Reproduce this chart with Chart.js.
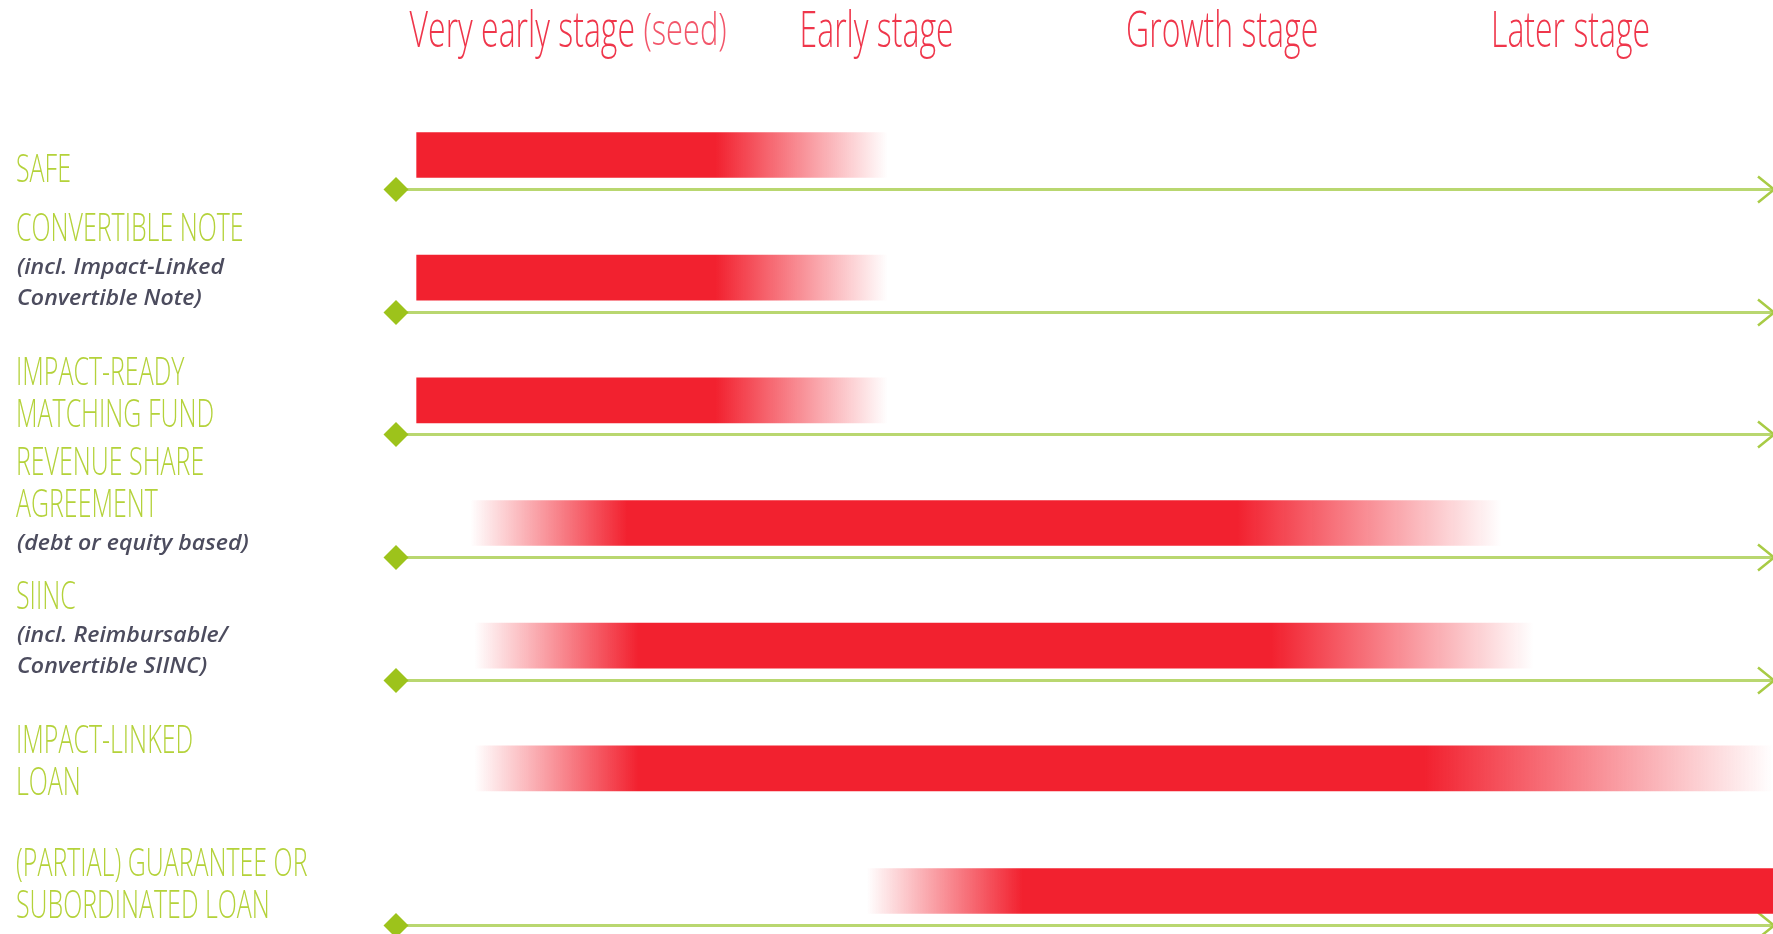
<!DOCTYPE html>
<html>
<head>
<meta charset="utf-8">
<script src="https://cdn.jsdelivr.net/npm/chart.js@4.4.1/dist/chart.umd.min.js"></script>
<style>
  html, body { margin: 0; padding: 0; background: #ffffff; overflow: hidden; }
  #wrap { width: 1773px; height: 934px; position: relative; }
  canvas { display: block; }
</style>
</head>
<body>
<div id="wrap"><canvas id="c" width="1773" height="934"></canvas></div>
<script>
// ---------------- DATA ----------------
const categories = [
  'SAFE',
  'CONVERTIBLE NOTE',
  'IMPACT-READY MATCHING FUND',
  'REVENUE SHARE AGREEMENT',
  'SIINC',
  'IMPACT-LINKED LOAN',
  '(PARTIAL) GUARANTEE OR SUBORDINATED LOAN'
];
const titleLines = [
  ['SAFE'],
  ['CONVERTIBLE NOTE'],
  ['IMPACT-READY', 'MATCHING FUND'],
  ['REVENUE SHARE', 'AGREEMENT'],
  ['SIINC'],
  ['IMPACT-LINKED', 'LOAN'],
  ['(PARTIAL) GUARANTEE OR', 'SUBORDINATED LOAN']
];
const noteLines = [
  [],
  ['(incl. Impact-Linked', 'Convertible Note)'],
  [],
  ['(debt or equity based)'],
  ['(incl. Reimbursable/', 'Convertible SIINC)'],
  [],
  []
];
// stage axis runs 0 (start) .. 100 (end of later stage)
const barStart   = [1.5, 1.5, 1.5, 5.4, 5.7, 5.7, 34.2];
const solidStart = [1.5, 1.5, 1.5, 16.8, 17.6, 17.6, 45.5];
const solidEnd   = [23.2, 23.2, 23.2, 61.1, 63.6, 74.7, 100];
const barEnd     = [35.7, 35.7, 35.7, 80.3, 82.6, 100, 100];
const hasTrack   = [true, true, true, true, true, false, true];

const stageLabels    = ['Very early stage', 'Early stage', 'Growth stage', 'Later stage'];
const stageNotes     = ['(seed)', '', '', ''];
const stagePositions = [12.5, 35.2, 60.3, 85.6];

// ---------------- STYLE ----------------
const RED = 'rgba(242,33,47,1)';
const RED0 = 'rgba(242,33,47,0)';
const GREEN_TEXT = '#b4d23a';
const GREEN_LINE = '#b9d770';
const GREEN_MARK = '#9dc31b';
const HEAD_RED = '#ef364b';
const HEAD_NOTE = '#f2566a';
const NOTE_GREY = '#4c4c5e';

function condensed(ctx, text, x, y, sx) {
  ctx.save();
  ctx.translate(x, y);
  ctx.scale(sx, 1);
  ctx.textAlign = 'left';
  ctx.fillText(text, 0, 0);
  ctx.restore();
}

const decor = {
  id: 'decor',
  beforeDatasetsDraw(chart) {
    const ctx = chart.ctx, xs = chart.scales.x, ys = chart.scales.y;
    ctx.save();
    categories.forEach((c, i) => {
      if (!hasTrack[i]) return;
      const y = Math.round(ys.getPixelForValue(i) + 34) + 0.5;
      const x0 = xs.getPixelForValue(0);
      const xr = xs.getPixelForValue(100);
      ctx.strokeStyle = GREEN_LINE;
      ctx.lineWidth = 3;
      ctx.beginPath(); ctx.moveTo(x0, y); ctx.lineTo(xr, y); ctx.stroke();
      ctx.strokeStyle = '#a8cb45';
      ctx.lineWidth = 2.5;
      ctx.beginPath();
      ctx.moveTo(xr - 15, y - 13); ctx.lineTo(xr + 1, y); ctx.lineTo(xr - 15, y + 13);
      ctx.stroke();
      ctx.fillStyle = GREEN_MARK;
      const s = 12.5;
      ctx.beginPath();
      ctx.moveTo(x0, y - s); ctx.lineTo(x0 + s, y); ctx.lineTo(x0, y + s); ctx.lineTo(x0 - s, y);
      ctx.closePath(); ctx.fill();
    });
    ctx.restore();
  },
  afterDraw(chart) {
    const ctx = chart.ctx, xs = chart.scales.x, ys = chart.scales.y;
    ctx.save();
    ctx.textBaseline = 'alphabetic';
    // stage headers
    stageLabels.forEach((lab, i) => {
      const cx = xs.getPixelForValue(stagePositions[i]);
      const sx = 0.64;
      const nsx = 0.7;
      ctx.font = '300 50px "Open Sans"';
      const w1 = ctx.measureText(lab + ' ').width * sx;
      let w2 = 0;
      if (stageNotes[i]) {
        ctx.font = '300 44px "Open Sans"';
        w2 = ctx.measureText(stageNotes[i]).width * nsx;
      }
      const left = cx - (w1 + w2) / 2;
      ctx.font = '300 50px "Open Sans"';
      ctx.fillStyle = HEAD_RED;
      condensed(ctx, lab, left, 47, sx);
      if (stageNotes[i]) {
        ctx.font = '300 44px "Open Sans"';
        ctx.fillStyle = HEAD_NOTE;
        condensed(ctx, stageNotes[i], left + w1, 45, nsx);
      }
    });
    // row labels, bottom-aligned just above each track
    categories.forEach((c, i) => {
      const anchor = ys.getPixelForValue(i) + 27;
      const notes = noteLines[i], titles = titleLines[i];
      const items = [];
      let y = anchor;
      for (let k = notes.length - 1; k >= 0; k--) {
        items.push({ t: notes[k], y: y, note: true });
        y -= (k > 0) ? 30.5 : 33;
      }
      for (let k = titles.length - 1; k >= 0; k--) {
        items.push({ t: titles[k], y: y, note: false });
        y -= 42;
      }
      items.forEach(it => {
        if (it.note) {
          ctx.font = 'italic 600 22px "Open Sans"';
          ctx.fillStyle = NOTE_GREY;
          condensed(ctx, it.t, 17, it.y, 1.05);
        } else {
          ctx.font = '300 39px "Open Sans"';
          ctx.fillStyle = GREEN_TEXT;
          condensed(ctx, it.t, 16, it.y, 0.64);
        }
      });
    });
    ctx.restore();
  }
};

function barFill(context) {
  const chart = context.chart;
  const xs = chart.scales && chart.scales.x;
  if (!chart.chartArea || !xs || context.dataIndex == null) return RED;
  const i = context.dataIndex;
  const x0 = xs.getPixelForValue(barStart[i]);
  const x1 = xs.getPixelForValue(solidStart[i]);
  const x2 = xs.getPixelForValue(solidEnd[i]);
  const x3 = xs.getPixelForValue(barEnd[i]);
  const w = x3 - x0;
  const g = chart.ctx.createLinearGradient(x0, 0, x3, 0);
  g.addColorStop(0, x1 > x0 + 0.5 ? RED0 : RED);
  g.addColorStop(Math.max(0, Math.min(1, (x1 - x0) / w)), RED);
  g.addColorStop(Math.max(0, Math.min(1, (x2 - x0) / w)), RED);
  g.addColorStop(1, x2 < x3 - 0.5 ? RED0 : RED);
  return g;
}

function make() {
  new Chart(document.getElementById('c'), {
    type: 'bar',
    data: {
      labels: categories,
      datasets: [{
        data: barStart.map((s, i) => [s, barEnd[i]]),
        backgroundColor: barFill,
        borderWidth: 0,
        borderSkipped: false,
        barThickness: 45,
        clip: false
      }]
    },
    options: {
      indexAxis: 'y',
      responsive: false,
      animation: false,
      devicePixelRatio: 1,
      layout: { padding: { left: 396, right: 0, top: 155, bottom: 43 } },
      scales: {
        x: { type: 'linear', min: 0, max: 100, display: false, grid: { display: false } },
        y: { type: 'category', offset: false, display: false, grid: { display: false } }
      },
      plugins: { legend: { display: false }, tooltip: { enabled: false } }
    },
    plugins: [decor]
  });
}

const loads = [
  document.fonts.load('300 50px "Open Sans"'),
  document.fonts.load('300 39px "Open Sans"'),
  document.fonts.load('italic 600 22px "Open Sans"')
];
Promise.all(loads).then(make, make);
</script>
</body>
</html>
